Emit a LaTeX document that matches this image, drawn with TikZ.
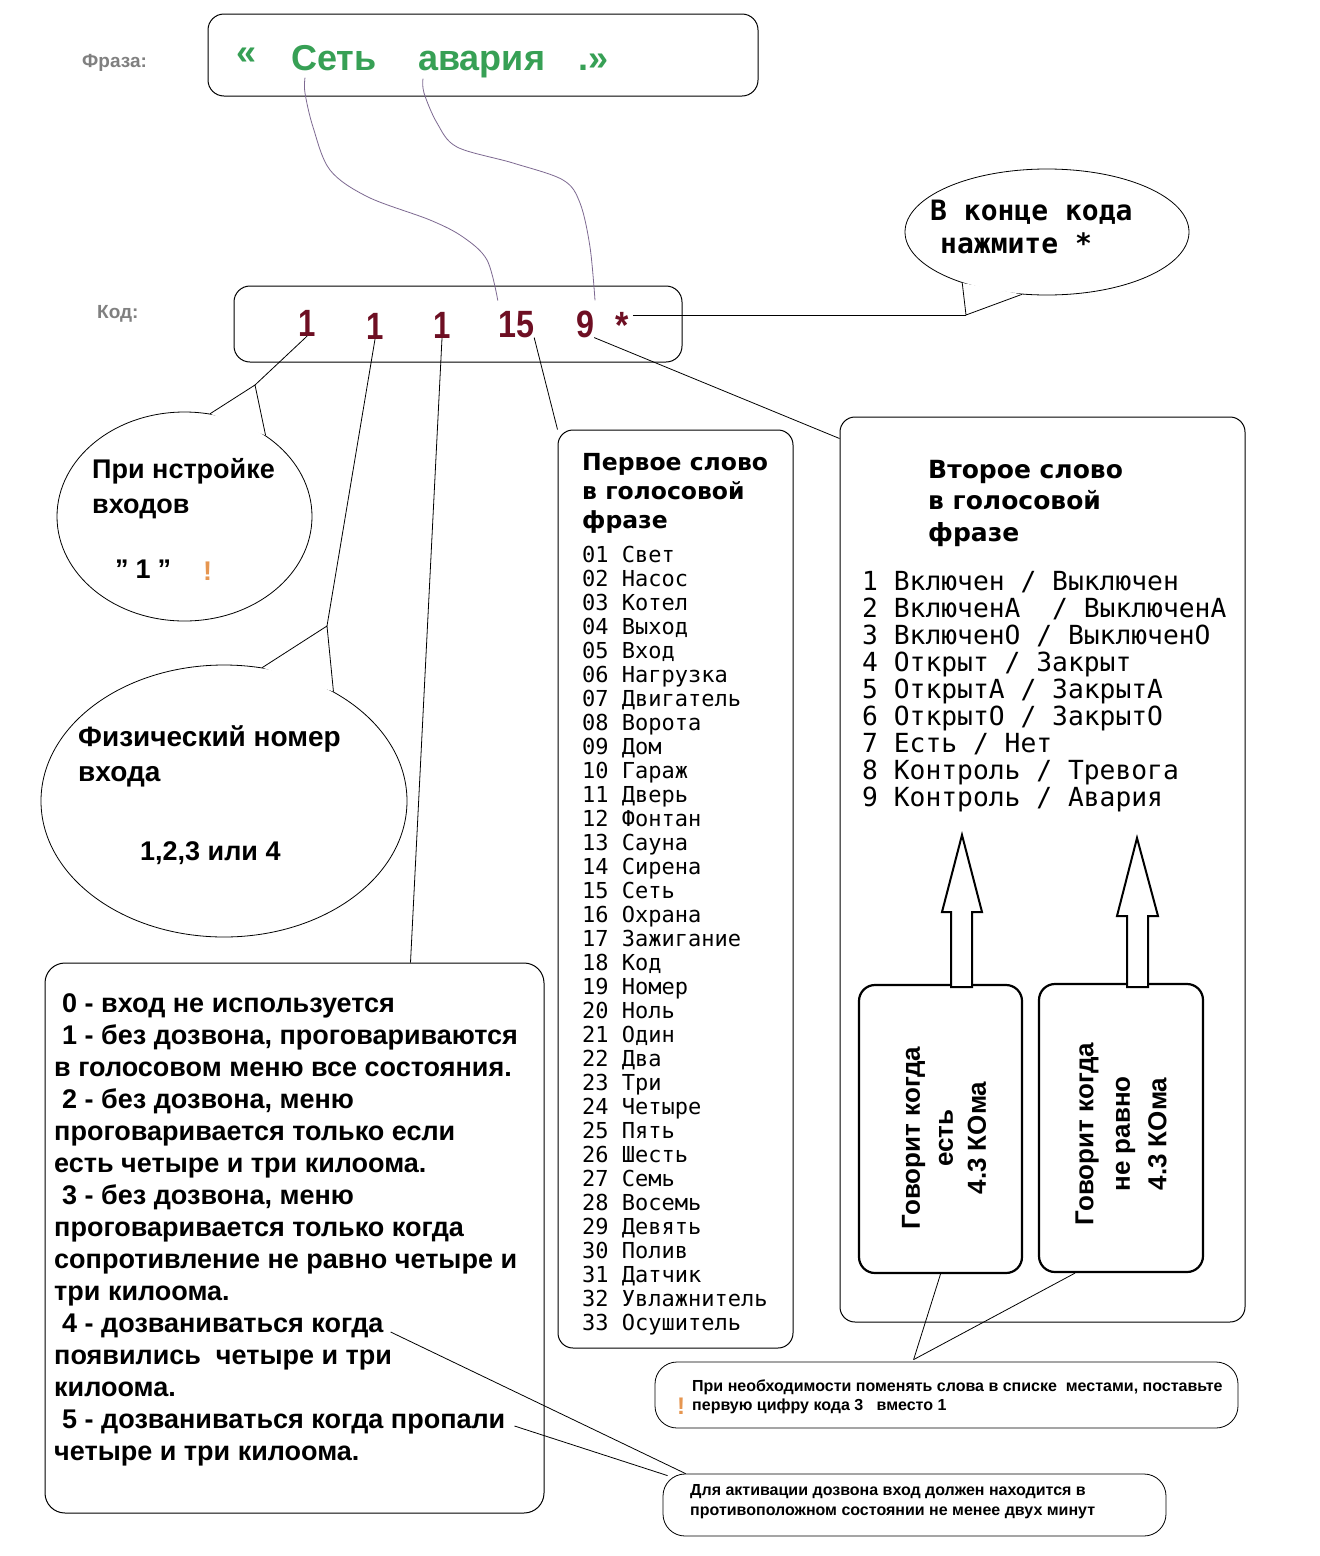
\documentclass[tikz,border=0pt]{standalone}
\usepackage{fontspec}
\setmainfont{Liberation Sans}
\newfontfamily\dvs{DejaVu Sans}
\newfontfamily\dvm{DejaVu Sans Mono}
\usetikzlibrary{shapes.geometric}
\definecolor{lbl}{RGB}{128,128,128}
\definecolor{phr}{RGB}{55,160,85}
\definecolor{cod}{RGB}{110,15,35}
\definecolor{exc}{RGB}{230,150,80}
\definecolor{crv}{RGB}{125,105,145}
\begin{document}
\begin{tikzpicture}[x=1pt,y=-1pt,
  txt/.style={inner sep=0pt, anchor=base west},
  ctxt/.style={inner sep=0pt, anchor=base},
  frame/.style={draw, line width=1pt, rounded corners=16pt, inner sep=0pt},
  fatframe/.style={draw, line width=2.2pt, rounded corners=16pt, inner sep=0pt},
  bubble/.style={draw, ellipse, line width=0.8pt, inner sep=0pt},
  con/.style={line width=0.8pt},
  curvy/.style={line width=0.8pt, draw=crv},
  bigarrow/.style={draw, fill=white, line width=2pt, line join=miter},
  note/.style={draw, line width=0.8pt, rounded corners=22pt, inner sep=0pt},
  digit/.style={ctxt, text=cod, font=\bfseries\fontsize{38}{40}\selectfont},
  bigtxt/.style={txt, font=\bfseries\fontsize{27}{32}\selectfont},
  smalltxt/.style={txt, font=\bfseries\fontsize{16}{18}\selectfont},
]
\fill[white] (0,0) rectangle (1320,1556);
\useasboundingbox (0,0) rectangle (1320,1556);

% ---------- frames ----------
\node[frame, minimum width=550pt, minimum height=82pt] (pb) at (483,55) {};
\node[frame, minimum width=448pt, minimum height=76pt] (cb) at (458,324) {};
\node[frame, rounded corners=15pt, minimum width=235pt, minimum height=918pt] (fb) at (675.5,889) {};
\node[frame, rounded corners=15pt, minimum width=405pt, minimum height=905pt] (sb) at (1042.5,869.5) {};
\node[frame, rounded corners=20pt, minimum width=499pt, minimum height=550pt] (bb) at (294.5,1238) {};
\node[fatframe, minimum width=163pt, minimum height=288pt] (ba) at (940.5,1129) {};
\node[fatframe, minimum width=164pt, minimum height=288pt] (bx) at (1121,1128) {};
\node[note, minimum width=583pt, minimum height=66pt] (n1) at (946.5,1395) {};
\node[note, minimum width=503pt, minimum height=62pt] (n2) at (914.5,1505) {};

% ---------- bubbles ----------
\node[bubble, minimum width=284pt, minimum height=126pt] (b3) at (1047,232) {};
\node[bubble, minimum width=255pt, minimum height=209pt] (b1) at (184.5,516.5) {};
\node[bubble, minimum width=366pt, minimum height=272pt] (b2) at (224,801) {};

\coordinate (t1) at (255,385);
\coordinate (t2) at (327,626);
\coordinate (t3) at (966,315);
\fill[white] (b1.76) -- (t1) -- (b1.45) -- cycle;
\draw[con] (b1.76) -- (t1) -- (b1.45);
\fill[white] (b2.74) -- (t2) -- (b2.45) -- cycle;
\draw[con] (b2.74) -- (t2) -- (b2.45);
\fill[white] (b3.211) -- (t3) -- (b3.248) -- cycle;
\draw[con] (b3.211) -- (t3) -- (b3.248);

% ---------- labels ----------
\node[txt, text=lbl, font=\bfseries\fontsize{19}{22}\selectfont] (flab) at (82,67) {Фраза:};
\node[txt, text=lbl, font=\bfseries\fontsize{19}{22}\selectfont] (klab) at (97,318) {Код:};

% ---------- phrase ----------
\begin{scope}[every node/.style={txt, text=phr, font=\bfseries\fontsize{36}{40}\selectfont}]
\node (lq) at (236,64) {«};
\node (seti) at (291,70) {Сеть};
\node (avr) at (418,70) {авария};
\node (rq) at (578,70) {.»};
\end{scope}

% ---------- code digits ----------
\node[digit] (d1) at (307,336) {\scalebox{0.82}[1]{1}};
\node[digit] (d2) at (375,339) {\scalebox{0.82}[1]{1}};
\node[digit] (d3) at (442,338) {\scalebox{0.82}[1]{1}};
\node[digit] (d4) at (516,337) {\scalebox{0.85}[1]{15}};
\node[digit] (d5) at (585,337) {\scalebox{0.85}[1]{9}};
\node[digit] (star) at (622,338) {\scalebox{0.9}[1]{*}};

% ---------- curves from phrase to code ----------
\draw[curvy] plot[smooth, tension=0.55] coordinates {([xshift=14pt,yshift=-7pt]seti.south west) (305,93) (313,127) (330,170) (368,197) (430,220) (463,237) (487,260) ([yshift=10pt]d4.north west)};
\draw[curvy] plot[smooth, tension=0.55] coordinates {([xshift=5pt,yshift=-1pt]avr.south west) (424,93) (437,123) (457,147) (513,163) (563,180) (580,203) (590,247) ([xshift=10pt,yshift=10pt]d5.north)};

% ---------- connectors ----------
\draw[con] ([xshift=4pt]star.east |- t3) -- (t3);
\draw[con] (d1.south) -- (t1);
\draw[con] (d2.south) -- (t2);
\draw[con] (d3.south) -- ([xshift=366pt]bb.north west);
\draw[con] (d4.south east) -- (fb.north west);
\draw[con] (d5.south east) -- ([yshift=-22pt]sb.north west);
\coordinate (nt) at ([xshift=259pt,yshift=2pt]n1.north west);
\draw[con] (ba.south) -- (nt);
\draw[con] ([xshift=-46pt]bx.south) -- (nt);

% ---------- bubble texts ----------
\node[txt, font=\dvm\bfseries\fontsize{28}{32}\selectfont] (bt1) at (930,220) {В конце кода};
\node[txt, font=\dvm\bfseries\fontsize{28}{32}\selectfont] (bt2) at (940,253) {нажмите *};

\node[bigtxt] (p1) at (92,478) {При нстройке};
\node[bigtxt] (p2) at (92,513) {входов};
\node[bigtxt] (p3) at (115,578) {\symbol{34}\hspace{7pt}1\hspace{7pt}\symbol{34}};
\node[txt, text=exc, font=\bfseries\fontsize{27}{30}\selectfont] (p4) at (203,580) {!};

\node[bigtxt, font=\bfseries\fontsize{28}{32}\selectfont] (f1) at (78,746) {Физический номер};
\node[bigtxt, font=\bfseries\fontsize{28}{32}\selectfont] (f2) at (78,781) {входа};
\node[bigtxt] (f3) at (140,860) {1,2,3 или 4};

% ---------- first word list ----------
\begin{scope}[every node/.style={txt, font=\dvs\bfseries\fontsize{23.5}{28}\selectfont}]
\node (ft1) at (582,470) {Первое слово};
\node (ft2) at (582,499) {в голосовой};
\node (ft3) at (582,528) {фразе};
\end{scope}
\foreach \w [count=\i] in {01 Свет,02 Насос,03 Котел,04 Выход,05 Вход,06 Нагрузка,07 Двигатель,08 Ворота,09 Дом,10 Гараж,11 Дверь,12 Фонтан,13 Сауна,14 Сирена,15 Сеть,16 Охрана,17 Зажигание,18 Код,19 Номер,20 Ноль,21 Один,22 Два,23 Три,24 Четыре,25 Пять,26 Шесть,27 Семь,28 Восемь,29 Девять,30 Полив,31 Датчик,32 Увлажнитель,33 Осушитель}
  \node[txt, font=\dvm\fontsize{22}{24}\selectfont] (fw\i) at (582,{562+24*(\i-1)}) {\w};

% ---------- second word list ----------
\begin{scope}[every node/.style={txt, font=\dvs\bfseries\fontsize{25}{30}\selectfont}]
\node (st1) at (928,478) {Второе слово};
\node (st2) at (928,509) {в голосовой};
\node (st3) at (928,541) {фразе};
\end{scope}
\foreach \w [count=\i] in {1 Включен / Выключен,2 ВключенА~~/ ВыключенА,3 ВключенО / ВыключенО,4 Открыт / Закрыт,5 ОткрытА / ЗакрытА,6 ОткрытО / ЗакрытО,7 Есть / Нет,8 Контроль / Тревога,9 Контроль / Авария}
  \node[txt, font=\dvm\fontsize{26.3}{28}\selectfont] (sw\i) at (862,{590+27*(\i-1)}) {\w};

% ---------- block arrows ----------
\draw[bigarrow] (951,987) -- (951,912) -- (942,912) -- (962,835) -- (982,912) -- (972,912) -- (972,987) -- cycle;
\draw[bigarrow] (1127,987) -- (1127,916) -- (1117,916) -- (1137,838) -- (1158,916) -- (1148,916) -- (1148,987) -- cycle;

\node[rotate=90, align=center, inner sep=0pt, font=\bfseries\fontsize{26}{33}\selectfont] (ta) at (944,1138) {Говорит когда\\есть\\4.3 КОма};
\node[rotate=90, align=center, inner sep=0pt, font=\bfseries\fontsize{26}{36.5}\selectfont] (tb) at (1121,1134) {Говорит когда\\не равно\\4.3 КОма};

% ---------- big box text ----------
\foreach \xx/\t [count=\i] in {62/0 - вход не используется,62/{1 - без дозвона, проговариваются},54/в голосовом меню все состояния.,62/{2 - без дозвона, меню},54/проговаривается только если,54/есть четыре и три килоома.,62/{3 - без дозвона, меню},54/проговаривается только когда,54/сопротивление не равно четыре и,54/три килоома.,62/4 - дозваниваться когда,54/появились~~четыре и три,54/килоома.,62/5 - дозваниваться когда пропали,54/четыре и три килоома.}
  \node[bigtxt] (bl\i) at (\xx,{1012+32*(\i-1)}) {\t};

\draw[con] ([xshift=7pt]bl11.base east) -- ([xshift=23pt]n2.north west);
\draw[con] ([xshift=9pt,yshift=2pt]bl14.base east) -- ([xshift=5pt,yshift=-2pt]n2.north west);

% ---------- notes ----------
\node[smalltxt] (nn1) at (692,1391) {При необходимости поменять слова в списке~~местами, поставьте};
\node[smalltxt] (nn2) at (692,1410) {первую цифру кода 3~~~вместо 1};
\node[txt, text=exc, font=\bfseries\fontsize{24}{26}\selectfont] (nn3) at (677,1414) {!};
\node[smalltxt] (nm1) at (690,1495) {Для активации дозвона вход должен находится в};
\node[smalltxt] (nm2) at (690,1515) {противоположном состоянии не менее двух минут};
\end{tikzpicture}
\end{document}
